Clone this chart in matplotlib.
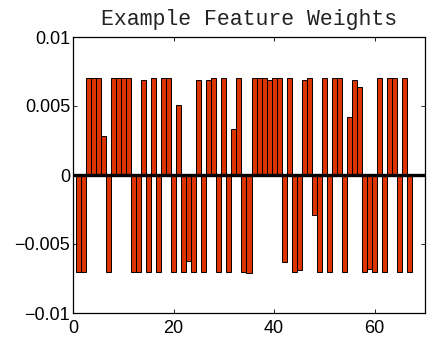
import numpy as np
import matplotlib
matplotlib.use('Agg')
import matplotlib.pyplot as plt

# poids (features 1..67)
features = np.arange(1, 68)
weights = [
    -0.007, -0.007, 0.007, 0.007, 0.007, 0.0028, -0.007, 0.007, 0.007, 0.007,
    0.007, -0.007, -0.007, 0.0069, -0.007, 0.007, -0.007, 0.007, 0.007, -0.007,
    0.0051, -0.007, -0.0062, -0.007, 0.0069, -0.007, 0.0069, 0.007, -0.007, 0.007,
    -0.007, 0.0033, 0.007, -0.007, -0.0071, 0.007, 0.007, 0.007, 0.0069, 0.007,
    0.007, -0.0063, 0.007, -0.007, -0.0069, 0.0069, 0.007, -0.0029, -0.007, 0.007,
    -0.007, 0.007, 0.007, -0.007, 0.0042, 0.0069, 0.0064, -0.007, -0.0068, -0.007,
    0.007, -0.007, 0.007, 0.007, -0.007, 0.007, -0.007,
]
xticks = [0, 20, 40, 60]
yticks = [-0.01, -0.005, 0, 0.005, 0.01]
yticklabels = ['\u22120.01', '\u22120.005', '0', '0.005', '0.01']

plt.rcParams['font.family'] = ['Liberation Sans', 'DejaVu Sans']

fig = plt.figure(figsize=(4.28, 3.38), dpi=100)
ax = fig.add_axes([73 / 428, 1 - 313 / 338, 352 / 428, 276 / 338])

ax.bar(features, weights, width=1.0, color='#dd3300', edgecolor='black', linewidth=0.7)
ax.axhline(0, color='black', linewidth=2.4)

ax.set_xlim(0, 70)
ax.set_ylim(-0.01, 0.01)
ax.set_xticks(xticks)
ax.set_yticks(yticks)
ax.set_yticklabels(yticklabels)
ax.tick_params(direction='in', length=3, width=0.6, top=True, right=True,
               labelsize=13, pad=2)
ax.tick_params(axis='x', pad=5)
for s in ax.spines.values():
    s.set_linewidth(0.9)

ax.set_title('Example Feature Weights', fontsize=15.5, family='Liberation Mono',
             color='#222222', pad=9)

fig.savefig('out.png', dpi=100)
